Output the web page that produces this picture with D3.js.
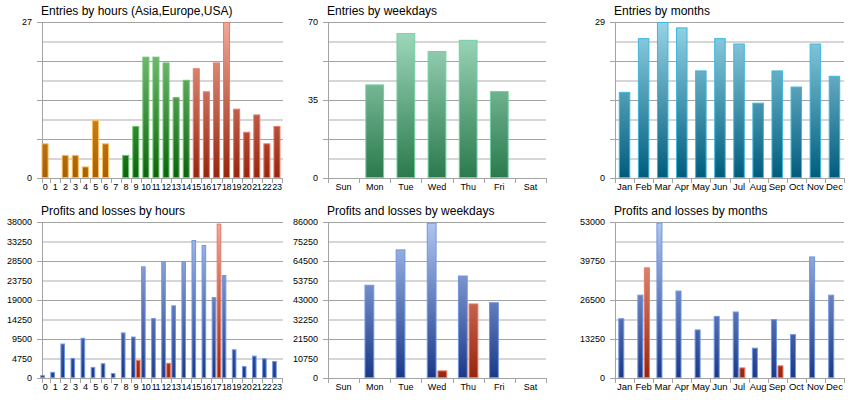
<!doctype html>
<html>
<head>
<meta charset="utf-8"/>
<script src="https://cdnjs.cloudflare.com/ajax/libs/d3/7.8.5/d3.min.js"></script>
<style>
  body { margin: 0; background: #fff; }
  svg { display: block; }
  text { font-family: "Liberation Sans", Arial, sans-serif; }
</style>
</head>
<body>
<svg id="chart" width="860" height="400"></svg>
<script>
// categories
var hours = ["0","1","2","3","4","5","6","7","8","9","10","11","12","13","14","15","16","17","18","19","20","21","22","23"];
var hourRegion = ["asia","asia","asia","asia","asia","asia","asia","asia",
                  "europe","europe","europe","europe","europe","europe","europe",
                  "usa","usa","usa","usa","usa","usa","usa","usa","usa"];
var weekdays = ["Sun","Mon","Tue","Wed","Thu","Fri","Sat"];
var months = ["Jan","Feb","Mar","Apr","May","Jun","Jul","Aug","Sep","Oct","Nov","Dec"];

// entries
var entriesByHour = [6,0,4,4,2,10,6,0,4,9,21,21,20,14,17,19,15,20,27,12,8,11,6,9];
var entriesByWeekday = [0,42,65,57,62,39,0];
var entriesByMonth = [16,26,29,28,20,26,25,14,20,17,25,19];

// profits / losses
var profitByHour = [700,1500,8400,4900,9800,2700,3600,1200,11100,10100,27200,14600,28500,17700,28500,33600,32400,19700,25100,7000,2900,5450,4800,4150];
var lossByHour   = [0,0,0,0,0,0,0,0,0,4400,0,0,3700,0,0,0,0,37600,0,0,0,0,0,0];
var profitByWeekday = [0,51400,70900,85600,56500,41800,0];
var lossByWeekday   = [0,0,0,4200,41100,0,0];
var profitByMonth = [20300,28300,52800,29700,16500,21100,22600,10300,20000,14900,41300,28300];
var lossByMonth   = [0,37600,0,0,0,0,3600,0,4300,0,0,0];

// axis maxima and labelled ticks
var yMax = [27, 70, 29, 38000, 86000, 53000];
var yLabels = [
  [0, 27],
  [0, 35, 70],
  [0, 29],
  [0,4750,9500,14250,19000,23750,28500,33250,38000],
  [0,10750,21500,32250,43000,53750,64500,75250,86000],
  [0,13250,26500,39750,53000]
];

var palette = {
  asia:    {top:"#f7b24a", bottom:"#a85f00", stroke:"#f8bb5c"},
  europe:  {top:"#8ad08a", bottom:"#0a640a", stroke:"#6cc46c"},
  usa:     {top:"#f4a898", bottom:"#98240c", stroke:"#e87a66"},
  week:    {top:"#a6dec4", bottom:"#2a7a4c", stroke:"#72d0a2"},
  month:   {top:"#96d4e6", bottom:"#005c7c", stroke:"#3cb8de"},
  profit:  {top:"#b0c6f2", bottom:"#1a3888", stroke:"#7096e0"},
  loss:    {top:"#f4a898", bottom:"#98240c", stroke:"#e87a66"}
};

var svg = d3.select("#chart");
var defs = svg.append("defs");
var gradId = 0;

function gradient(key, y1, y2) {
  var id = "g" + (gradId++);
  var g = defs.append("linearGradient").attr("id", id)
    .attr("gradientUnits", "userSpaceOnUse")
    .attr("x1", 0).attr("x2", 0).attr("y1", y1).attr("y2", y2);
  g.append("stop").attr("offset", "0%").attr("stop-color", palette[key].top);
  g.append("stop").attr("offset", "100%").attr("stop-color", palette[key].bottom);
  return "url(#" + id + ")";
}

function panel(o) {
  var g = svg.append("g");
  var y = d3.scaleLinear().domain([0, o.max]).range([o.bottom, o.top]);
  var x = d3.scaleBand().domain(o.cats).range(o.xRange).paddingInner(0).paddingOuter(0);

  g.append("text").attr("x", o.axisX - 1).attr("y", o.top - 7)
    .attr("font-size", 12).attr("fill", "#000").text(o.title);

  // grid: 8 steps, dark / light alternating
  d3.range(9).forEach(function(i) {
    var v = o.max * i / 8, yy = Math.round(y(v));
    if (i % 2 === 0) {
      g.append("line").attr("x1", o.axisX - 5).attr("x2", o.right)
        .attr("y1", yy + 0.5).attr("y2", yy + 0.5)
        .attr("stroke", "#a3a3a3").attr("stroke-width", 1);
    } else {
      g.append("line").attr("x1", o.axisX).attr("x2", o.right)
        .attr("y1", yy).attr("y2", yy)
        .attr("stroke", "#d6d6d6").attr("stroke-width", 2);
    }
  });
  g.append("line").attr("x1", o.axisX + 0.5).attr("x2", o.axisX + 0.5)
    .attr("y1", o.top).attr("y2", o.bottom + 5).attr("stroke", "#a3a3a3");

  // y labels
  g.selectAll(".yl").data(o.yLabels).enter().append("text")
    .attr("x", o.axisX - 10).attr("y", function(d) { return y(d); })
    .attr("dy", "0.35em").attr("text-anchor", "end")
    .attr("font-size", 9).attr("fill", "#000")
    .text(function(d) { return d; });

  // x ticks and labels
  var xb = o.cats.map(function(c) { return x(c); }).concat([o.xRange[1]]);
  g.selectAll(".xt").data(xb.slice(1)).enter().append("line")
    .attr("x1", function(d) { return Math.round(d) + 0.5; })
    .attr("x2", function(d) { return Math.round(d) + 0.5; })
    .attr("y1", o.bottom).attr("y2", o.bottom + 5).attr("stroke", "#a3a3a3");
  g.selectAll(".xl").data(o.cats).enter().append("text")
    .attr("x", function(d) { return x(d) + x.bandwidth() / 2; })
    .attr("y", o.bottom + 12).attr("text-anchor", "middle")
    .attr("font-size", o.catFont || 9.5).attr("fill", "#000")
    .attr("letter-spacing", o.catSpacing || 0)
    .text(function(d) { return d; });

  // bars
  var fills = {};
  o.series.forEach(function(s, si) {
    var sub = o.series.length > 1
      ? d3.scaleBand().domain(d3.range(o.series.length)).range([0, x.bandwidth()]).paddingOuter(o.outer).paddingInner(0.08)
      : d3.scaleBand().domain([0]).range([0, x.bandwidth()]).paddingOuter(o.outer);
    var data = s.values.map(function(v, i) { return {c: o.cats[i], v: v, k: s.colorKey(i)}; })
      .filter(function(d) { return d.v > 0; });
    g.selectAll(".b" + si).data(data).enter().append("rect")
      .attr("x", function(d) { return x(d.c) + sub(si) + 0.5; })
      .attr("y", function(d) { return y(d.v) + 0.5; })
      .attr("width", sub.bandwidth() - 1)
      .attr("height", function(d) { return o.bottom - y(d.v) - 1; })
      .attr("fill", function(d) {
        if (!fills[d.k]) fills[d.k] = gradient(d.k, o.top, o.bottom);
        return fills[d.k];
      })
      .attr("stroke", function(d) { return palette[d.k].stroke; })
      .attr("stroke-width", 1);
  });
}

var colX = [42, 328, 615], colRight = [283, 546, 844];
var rowTop = [22, 222], rowBottom = [178, 378];
var xRanges = [[40, 282], [328, 546], [615, 844]];

panel({title:"Entries by hours (Asia,Europe,USA)", cats:hours, max:yMax[0], yLabels:yLabels[0],
  axisX:colX[0], right:colRight[0], top:rowTop[0], bottom:rowBottom[0], xRange:xRanges[0], outer:0.22,
  catFont:9, catSpacing:-0.4,
  series:[{values:entriesByHour, colorKey:function(i){ return hourRegion[i]; }}]});
panel({title:"Entries by weekdays", cats:weekdays, max:yMax[1], yLabels:yLabels[1],
  axisX:colX[1], right:colRight[1], top:rowTop[0], bottom:rowBottom[0], xRange:xRanges[1], outer:0.33, catFont:9,
  series:[{values:entriesByWeekday, colorKey:function(){ return "week"; }}]});
panel({title:"Entries by months", cats:months, max:yMax[2], yLabels:yLabels[2],
  axisX:colX[2], right:colRight[2], top:rowTop[0], bottom:rowBottom[0], xRange:xRanges[2], outer:0.33, catFont:9.5,
  series:[{values:entriesByMonth, colorKey:function(){ return "month"; }}]});

panel({title:"Profits and losses by hours", cats:hours, max:yMax[3], yLabels:yLabels[3],
  axisX:colX[0], right:colRight[0], top:rowTop[1], bottom:rowBottom[1], xRange:xRanges[0], outer:0.05,
  catFont:9, catSpacing:-0.4,
  series:[{values:profitByHour, colorKey:function(){ return "profit"; }},
          {values:lossByHour, colorKey:function(){ return "loss"; }}]});
panel({title:"Profits and losses by weekdays", cats:weekdays, max:yMax[4], yLabels:yLabels[4],
  axisX:colX[1], right:colRight[1], top:rowTop[1], bottom:rowBottom[1], xRange:xRanges[1], outer:0.5, catFont:9,
  series:[{values:profitByWeekday, colorKey:function(){ return "profit"; }},
          {values:lossByWeekday, colorKey:function(){ return "loss"; }}]});
panel({title:"Profits and losses by months", cats:months, max:yMax[5], yLabels:yLabels[5],
  axisX:colX[2], right:colRight[2], top:rowTop[1], bottom:rowBottom[1], xRange:xRanges[2], outer:0.5, catFont:9.5,
  series:[{values:profitByMonth, colorKey:function(){ return "profit"; }},
          {values:lossByMonth, colorKey:function(){ return "loss"; }}]});
</script>
</body>
</html>
